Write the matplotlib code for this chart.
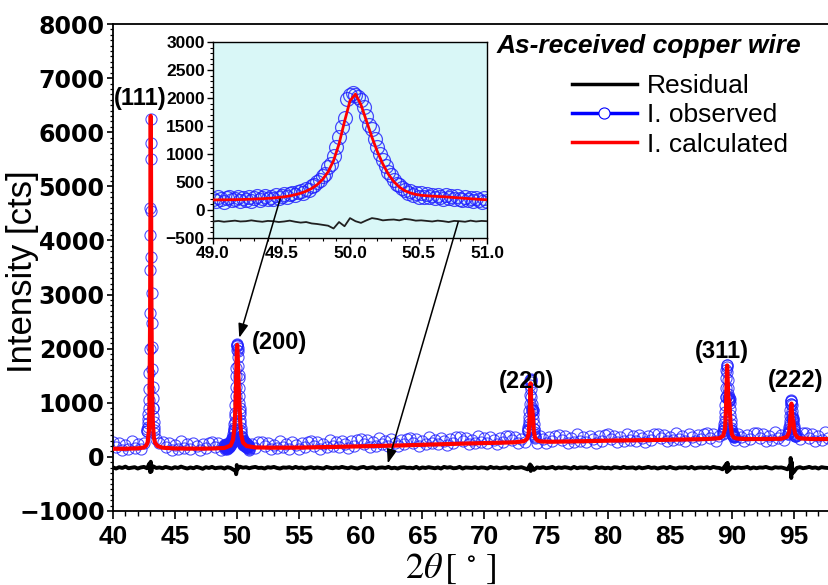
import numpy as np
import matplotlib
matplotlib.use('Agg')
import matplotlib.pyplot as plt
from matplotlib.lines import Line2D
from matplotlib.ticker import MultipleLocator

plt.rcParams['font.family'] = ['Liberation Sans', 'DejaVu Sans']
plt.rcParams['mathtext.fontset'] = 'stix'

# ---------------- data ----------------
# observed counts, coarse scan, 0.25 deg step from 40 deg
obs_counts = [
    275, 185, 250, 130,  215, 150, 285, 170,  235, 145, 265, 480,   # 40-42
    4100, 900, 330, 265,  275, 185, 250, 130,  215, 150, 285, 170,  # 43-45
    230, 140, 260, 200,  125, 240, 160, 265,  275, 185, 250, 130,   # 46-48
    215, 150, 285, 500,  2060, 850, 240, 205,  130, 245, 165, 270,  # 49-51
    282, 192, 257, 137,  225, 160, 295, 180,  243, 153, 273, 213,   # 52-54
    140, 255, 175, 280,  298, 208, 273, 153,  245, 180, 315, 200,   # 55-57
    267, 177, 297, 237,  170, 285, 205, 310,  328, 238, 303, 183,   # 58-60
    275, 210, 345, 230,  295, 205, 325, 265,  196, 311, 231, 336,   # 61-63
    352, 262, 327, 207,  298, 233, 368, 253,  319, 229, 349, 289,   # 64-66
    220, 335, 255, 360,  375, 285, 350, 230,  320, 255, 390, 275,   # 67-69
    340, 250, 370, 310,  240, 355, 275, 380,  395, 305, 370, 250,   # 70-72
    335, 270, 470, 1420,  520, 265, 385, 325,  250, 365, 285, 390,  # 73-75
    403, 313, 378, 258,  346, 281, 416, 301,  365, 275, 395, 335,   # 76-78
    263, 378, 298, 403,  416, 326, 391, 271,  360, 295, 430, 315,   # 79-81
    378, 288, 408, 348,  276, 391, 311, 416,  430, 340, 405, 285,   # 82-84
    373, 308, 443, 328,  391, 301, 421, 361,  290, 405, 325, 430,   # 85-87
    445, 355, 420, 300,  385, 420, 1100, 1045,  450, 310, 430, 370, # 88-90
    295, 410, 330, 435,  445, 355, 420, 300,  385, 320, 455, 340,   # 91-93
    400, 310, 420, 970,  540, 410, 330, 435,  445, 355, 420, 300,   # 94-96
    385, 320, 455, 340,                                             # 97
]

# residual (offset by -200), same coarse grid
residual_counts = [
    -195, -215, -190, -205, -180, -210, -200, -190, -215, -195, -185, -210,
    -230, -175, -205, -195, -210, -185, -200, -215, -190, -205, -180, -200,
    -215, -195, -210, -185, -200, -220, -190, -205, -185, -210, -200, -195,
    -215, -190, -205, -240, -250, -180, -200, -190, -210, -195, -185, -205,
    -200, -215, -190, -200, -185, -205, -215, -195, -200, -190, -210, -185,
    -205, -195, -215, -200, -190, -210, -195, -205, -215, -185, -200, -210,
    -195, -205, -185, -200, -210, -190, -205, -215, -195, -185, -210, -200,
    -190, -215, -200, -195, -205, -185, -210, -200, -215, -195, -190, -205,
    -200, -210, -185, -215, -195, -205, -190, -200, -210, -195, -215, -185,
    -200, -190, -210, -205, -185, -215, -195, -200, -205, -190, -210, -195,
    -200, -215, -185, -205, -195, -210, -200, -190, -215, -185, -205, -200,
    -190, -210, -230, -160, -240, -195, -205, -190, -210, -200, -185, -215,
    -195, -205, -190, -200, -215, -185, -210, -195, -200, -190, -215, -205,
    -185, -205, -195, -210, -200, -215, -190, -195, -210, -185, -205, -200,
    -195, -215, -190, -210, -200, -185, -205, -195, -215, -200, -190, -210,
    -185, -205, -215, -195, -200, -190, -210, -185, -215, -200, -195, -205,
    -190, -210, -185, -200, -205, -230, -150, -250, -190, -210, -195, -205,
    -200, -185, -215, -195, -210, -195, -200, -185, -205, -215, -190, -200,
    -195, -210, -230, -130, -280, -205, -190, -210, -200, -185, -205, -195,
    -215, -190, -200, -205,
]
glitch_2theta = [42.95, 43.0, 43.05, 43.1, 43.15, 49.9, 49.95, 50.0, 50.05,
                 73.7, 73.75, 73.8, 89.55, 89.6, 89.65, 89.7,
                 94.75, 94.8, 94.85, 94.9]
glitch_counts = [-120, -280, -90, -270, -170, -260, -320, -150, -230,
                 -140, -260, -170, -130, -280, -110, -260,
                 -20, -390, -100, -300]

# fine scans across the reflections, 0.02 deg step
p111_start = 42.75
p111_obs = [480, 520, 560, 620, 700, 790, 900, 1050, 1250, 1550, 2000, 2650,
            3450, 4600, 5800, 6250, 5500, 4550, 3700, 3020, 2470, 2030, 1620,
            1300, 1080, 900, 760, 640, 560, 490, 440]
p220_start = 73.50
p220_obs = [470, 500, 520, 560, 600, 660, 740, 850, 980, 1150, 1320, 1420,
            1440, 1380, 1250, 1100, 980, 900, 860, 850, 870, 860, 800, 700,
            600, 520, 460, 420, 390, 370, 350]
p311_start = 89.30
p311_obs = [450, 470, 500, 530, 560, 610, 660, 740, 830, 950, 1100, 1280,
            1450, 1600, 1690, 1700, 1660, 1560, 1420, 1280, 1160, 1080, 1040,
            1050, 1080, 1100, 1070, 990, 880, 770, 680, 600, 540, 500, 470,
            450, 430, 420, 410, 400, 395, 390, 385, 380, 375, 370]
p222_start = 94.55
p222_obs = [430, 445, 460, 480, 510, 550, 600, 670, 760, 870, 970, 1040,
            1060, 1030, 950, 850, 770, 720, 700, 710, 690, 640, 570, 510,
            470, 440, 420, 405, 395, 390, 385]

# (200) reflection, 49-51 deg, shown in the inset
p200_start = 49.0
p200_obs = [205, 160, 225, 190, 150, 215, 235, 170, 200, 240, 165, 210, 185,
            230, 160, 220, 245, 180, 215, 250, 190, 235, 205, 260, 215, 250,
            285, 230, 280, 310, 265, 330, 345, 300, 375, 350, 420, 455, 500,
            540, 610, 650, 760, 820, 960, 1120, 1300, 1490, 1650, 1980, 2060,
            2090, 2050, 2010, 1960, 1840, 1680, 1520, 1450, 1270, 1130, 1000,
            900, 790, 680, 620, 540, 470, 445, 390, 360, 300, 340, 265, 310,
            240, 295, 225, 280, 230, 270, 215, 265, 230, 200, 270, 215, 250,
            190, 245, 205, 180, 240, 175, 220, 160, 215, 185, 150, 210, 165]
p200_calc = [180, 181, 182, 183, 185, 187, 190, 193, 197, 202, 208, 215, 224,
             236, 252, 273, 300, 336, 385, 452, 545, 680, 880, 1180, 1580,
             1950, 2070, 1880, 1590, 1300, 1040, 820, 640, 505, 410, 345, 305,
             278, 262, 254, 247, 242, 237, 230, 223, 216, 208, 201, 194, 188,
             182]
p200_resid = [-205, -195, -210, -200, -190, -205, -200, -185, -200, -210, -195,
              -200, -215, -205, -190, -210, -225, -215, -240, -250, -265, -280,
              -330, -215, -290, -145, -200, -230, -185, -145, -160, -185, -175,
              -170, -185, -160, -170, -190, -185, -195, -205, -190, -200, -215,
              -195, -200, -210, -190, -205, -195, -200]

# calculated profile
calc_2theta = [40.0, 41.0, 42.0, 42.5, 42.7, 42.8, 42.9, 42.95, 43.0, 43.03,
               43.05, 43.07, 43.1, 43.15, 43.2, 43.3, 43.4, 43.6, 44.0, 45.0,
               47.0, 48.0, 49.0, 49.5, 49.7, 49.8, 49.88, 49.92, 49.96, 50.0,
               50.03, 50.06, 50.1, 50.15, 50.2, 50.28, 50.36, 50.5, 50.8, 51.5,
               53.0, 55.0, 58.0, 60.0, 63.0, 66.0, 69.0, 71.0, 72.5, 73.2,
               73.45, 73.58, 73.66, 73.71, 73.74, 73.77, 73.82, 73.88, 73.94, 74.0,
               74.1, 74.3, 74.6, 75.5, 78.0, 80.0, 83.0, 86.0, 88.0, 89.0,
               89.3, 89.45, 89.53, 89.59, 89.62, 89.66, 89.72, 89.78, 89.83, 89.9,
               90.0, 90.15, 90.4, 91.0, 92.5, 94.0, 94.45, 94.62, 94.72, 94.78,
               94.82, 94.86, 94.92, 94.97, 95.03, 95.12, 95.3, 95.6, 96.5, 97.8]
calc_counts = [150, 150, 158, 175, 215, 270, 480, 900, 2600, 5200,
               6300, 5300, 3000, 1300, 700, 360, 260, 200, 170, 155,
               152, 155, 165, 210, 320, 520, 860, 1150, 1550, 1930,
               2070, 1970, 1700, 1360, 1040, 640, 410, 265, 200, 175,
               170, 172, 185, 195, 210, 230, 250, 260, 270, 290,
               330, 420, 700, 1150, 1360, 1150, 820, 860, 700, 480,
               350, 300, 285, 280, 290, 300, 310, 320, 330, 345,
               390, 520, 900, 1500, 1690, 1450, 1080, 1050, 900, 600,
               420, 360, 340, 330, 330, 335, 370, 450, 700, 930,
               985, 820, 680, 660, 520, 420, 360, 340, 330, 330]

peak_labels = ['(111)', '(200)', '(220)', '(311)', '(222)']
label_2theta = [42.2, 53.45, 73.45, 89.2, 95.15]
label_counts = [6630, 2120, 1400, 1940, 1410]

x_ticks = np.arange(40, 96, 5)
y_ticks = np.arange(-1000, 8001, 1000)

# ---------------- figure ----------------
W, H = 829, 585
fig = plt.figure(figsize=(W / 100, H / 100), dpi=100)
ax = fig.add_axes([113 / W, 74 / H, 716 / W, 487 / H])

obs_blue = '#2020ff'
obs_style = dict(ls='none', marker='o', ms=8, mfc='none', mec=obs_blue,
                 mew=0.8, alpha=0.8, zorder=2)

obs_2theta = 40.0 + 0.25 * np.arange(len(obs_counts))
ax.plot(obs_2theta, obs_counts, **obs_style)
for start, vals in [(p111_start, p111_obs), (p200_start, p200_obs),
                    (p220_start, p220_obs), (p311_start, p311_obs),
                    (p222_start, p222_obs)]:
    xs = start + 0.02 * np.arange(len(vals))
    ax.plot(xs, vals, **obs_style)

ax.plot(calc_2theta, calc_counts, color='red', lw=3, zorder=3)

res_x = np.concatenate([obs_2theta, glitch_2theta])
res_y = np.concatenate([residual_counts, glitch_counts])
order = np.argsort(res_x, kind='stable')
ax.plot(res_x[order], res_y[order], color='black', lw=2.8, zorder=3)

for lab, x, y in zip(peak_labels, label_2theta, label_counts):
    ax.text(x, y, lab, fontsize=17, fontweight='bold', ha='center', va='center')

ax.set_xlim(40, 97.85)
ax.set_ylim(-1000, 8000)
ax.set_xticks(x_ticks)
ax.set_yticks(y_ticks)
ax.xaxis.set_minor_locator(MultipleLocator(1))
ax.yaxis.set_minor_locator(MultipleLocator(100))
ax.tick_params(axis='x', which='major', direction='out', length=6, width=1.2, pad=4)
ax.tick_params(axis='x', which='minor', direction='out', length=3.5, width=1.0)
ax.tick_params(axis='y', which='major', direction='out', length=4, width=1.2, pad=2)
ax.tick_params(axis='y', which='minor', direction='out', length=2.5, width=0.9)
plt.setp(ax.get_xticklabels(), fontsize=19, fontweight='bold')
plt.setp(ax.get_yticklabels(), fontsize=17, fontweight='bold', family='DejaVu Sans')
ax.spines['right'].set_visible(False)
for s in ['left', 'bottom', 'top']:
    ax.spines[s].set_linewidth(1.3)

fig.text(23 / W, 1 - 272 / H, 'Intensity [cts]', rotation=90, fontsize=25,
         ha='center', va='center')
fig.text(451 / W, 1 - 568 / H, r'$2\theta\,[\ ^{\circ}\ ]$', fontsize=26,
         ha='center', va='center')

fig.text(497 / W, 1 - 46 / H, 'As-received copper wire', fontsize=19,
         fontweight='bold', style='italic', ha='left', va='center')

handles = [Line2D([], [], color='black', lw=2.5),
           Line2D([], [], color='blue', lw=2.5, marker='o', ms=8, mfc='white',
                  mec='blue', mew=0.8),
           Line2D([], [], color='red', lw=2.5)]
fig.legend(handles, ['Residual', 'I. observed', 'I. calculated'],
           loc='upper left', bbox_to_anchor=(572 / W, 1 - 74 / H),
           frameon=False, fontsize=19, handlelength=2.45, handletextpad=0.38,
           labelspacing=0.2, borderpad=0, borderaxespad=0)

# ---------------- inset ----------------
axins = fig.add_axes([213 / W, 1 - 238 / H, 274 / W, 196 / H])
axins.set_facecolor('#d9f7f7')
p200_x = p200_start + 0.02 * np.arange(len(p200_obs))
axins.plot(p200_x, p200_obs, ls='none', marker='o', ms=10, mfc='none',
           mec=obs_blue, mew=0.9, alpha=0.8, zorder=2)
p200_cx = p200_start + 0.04 * np.arange(len(p200_calc))
axins.plot(p200_cx, p200_calc, color='red', lw=2, zorder=3)
axins.plot(p200_cx, p200_resid, color='#202020', lw=1.3, zorder=3)
axins.set_xlim(49, 51)
axins.set_ylim(-500, 3000)
axins.set_xticks(np.arange(49, 51.01, 0.5))
axins.set_yticks(np.arange(-500, 3001, 500))
axins.xaxis.set_minor_locator(MultipleLocator(0.1))
axins.yaxis.set_minor_locator(MultipleLocator(100))
axins.tick_params(which='major', direction='out', length=4, width=1.0, pad=2)
axins.tick_params(which='minor', direction='out', length=2, width=0.8)
plt.setp(axins.get_xticklabels(), fontsize=12.5, fontweight='bold')
plt.setp(axins.get_yticklabels(), fontsize=12.5, fontweight='bold')
for s in axins.spines.values():
    s.set_linewidth(1.0)

arrow = dict(arrowstyle='-|>,head_length=0.7,head_width=0.25', color='black',
             lw=1.1, shrinkA=0, shrinkB=0, mutation_scale=12)
axins.annotate('', xy=(50.2, 2200), xycoords=ax.transData,
               xytext=(49.49, 200), textcoords='data', arrowprops=arrow,
               annotation_clip=False)
axins.annotate('', xy=(62.2, -120), xycoords=ax.transData,
               xytext=(50.79, -210), textcoords='data', arrowprops=arrow,
               annotation_clip=False)

fig.savefig('out.png', dpi=100)
